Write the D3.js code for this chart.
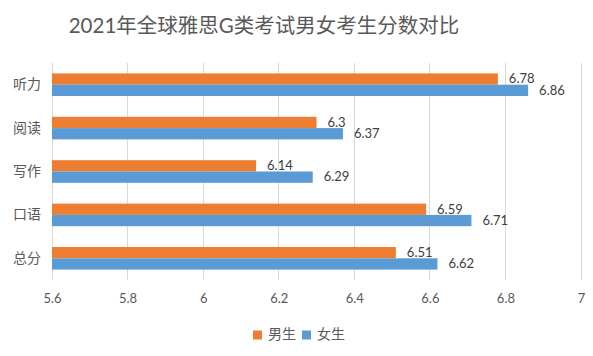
<!DOCTYPE html>
<html><head><meta charset="utf-8">
<script src="https://cdn.jsdelivr.net/npm/d3@7"></script>
<style>body{margin:0;background:#fff}svg{display:block}</style>
</head><body>
<svg id="c" width="593" height="356"></svg>
<script>
const title = "2021年全球雅思G类考试男女考生分数对比";
const categories = ["听力","阅读","写作","口语","总分"];
const seriesNames = ["男生","女生"];
const maleValues = [6.78, 6.3, 6.14, 6.59, 6.51];
const femaleValues = [6.86, 6.37, 6.29, 6.71, 6.62];
const xTicks = [5.6, 5.8, 6, 6.2, 6.4, 6.6, 6.8, 7];
const colors = ["#ED7D31", "#5B9BD5"];

const font = "Lato, 'Noto Sans CJK SC', sans-serif";
const svg = d3.select("#c");
const M = {left: 52, right: 581, top: 63, bottom: 280};

const x = d3.scaleLinear().domain([5.6, 7]).range([M.left, M.right]);
const y = d3.scaleBand().domain(categories).range([M.top, M.bottom]).paddingInner(0.48).paddingOuter(0.24);
const sub = d3.scaleBand().domain(seriesNames).range([0, y.bandwidth()]);

svg.append("text").attr("x", 264).attr("y", 33).attr("text-anchor", "middle")
  .attr("font-family", font).attr("font-size", 20.5).attr("fill", "#595959").text(title);

// gridlines
svg.append("g").selectAll("line").data(xTicks).join("line")
  .attr("x1", d => x(d)).attr("x2", d => x(d)).attr("y1", M.top).attr("y2", M.bottom)
  .attr("stroke", "#D9D9D9").attr("stroke-width", 1).attr("shape-rendering", "crispEdges");

// x axis labels
const xAxis = d3.axisBottom(x).tickValues(xTicks).tickSize(0).tickPadding(0).tickFormat(d3.format("~g"));
const gx = svg.append("g").attr("transform", `translate(0,${M.bottom + 14})`).call(xAxis);
gx.select(".domain").remove();
gx.selectAll("text").attr("font-family", font).attr("font-size", 13).attr("fill", "#595959");

// y axis labels
const yAxis = d3.axisLeft(y).tickSize(0).tickPadding(11);
const gy = svg.append("g").attr("transform", `translate(${M.left},0)`).call(yAxis);
gy.select(".domain").remove();
gy.selectAll("text").attr("font-family", font).attr("font-size", 14).attr("fill", "#595959");

const data = [maleValues, femaleValues];
data.forEach((vals, si) => {
  const g = svg.append("g");
  g.selectAll("rect").data(vals).join("rect")
    .attr("x", x(5.6))
    .attr("y", (d, i) => y(categories[i]) + sub(seriesNames[si]))
    .attr("width", d => x(d) - x(5.6))
    .attr("height", sub.bandwidth())
    .attr("fill", colors[si]);
  g.selectAll("text").data(vals).join("text")
    .attr("x", d => x(d) + 11)
    .attr("y", (d, i) => y(categories[i]) + sub(seriesNames[si]) + sub.bandwidth() / 2 + 1)
    .attr("dominant-baseline", "middle")
    .attr("font-family", font).attr("font-size", 13).attr("fill", "#404040")
    .text(d => d);
});

// legend
const legendX = [253, 302];
seriesNames.forEach((n, i) => {
  svg.append("rect").attr("x", legendX[i]).attr("y", 330.5).attr("width", 9).attr("height", 9).attr("fill", colors[i]);
  svg.append("text").attr("x", legendX[i] + 15).attr("y", 335).attr("dominant-baseline", "middle")
    .attr("font-family", font).attr("font-size", 14).attr("fill", "#595959").text(n);
});
</script>
</body></html>
